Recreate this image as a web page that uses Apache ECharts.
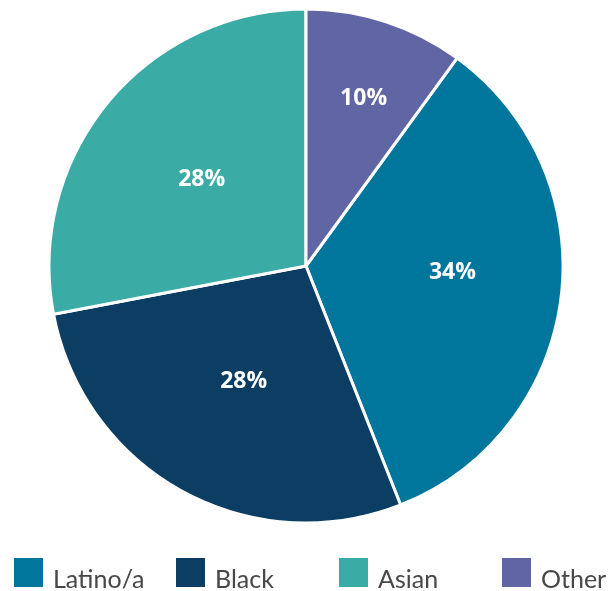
<!DOCTYPE html>
<html>
<head>
<meta charset="utf-8">
<script src="https://cdn.jsdelivr.net/npm/echarts@6/dist/echarts.min.js"></script>
<style>
  html, body { margin: 0; padding: 0; background: #ffffff; }
  #chart { width: 616px; height: 591px; }
</style>
</head>
<body>
<div id="chart"></div>
<script>
// Share of respondents by race/ethnicity
var categories = ['Latino/a', 'Black', 'Asian', 'Other'];
var shares = [34, 28, 28, 10];

var colors = ['#00769d', '#0c3d62', '#3aaca5', '#5f66a3'];
// nudges for the percentage labels, relative to the slice midpoint
var labelNudge = [[16, -10], [1, 0], [-3, -3], [17, -42]];
var legendLeft = [14, 176, 339, 502];

var cx = 306, cy = 266, R = 257;

var chart = echarts.init(document.getElementById('chart'));

var legends = categories.map(function (name, i) {
  return {
    data: [name],
    left: legendLeft[i],
    top: 558,
    padding: 0,
    itemWidth: 29,
    itemHeight: 29,
    itemGap: 0,
    icon: 'rect',
    selectedMode: false,
    itemStyle: { borderWidth: 0 },
    formatter: '{t|{name}}',
    textStyle: {
      rich: {
        t: {
          fontFamily: 'Lato',
          fontSize: 25,
          color: '#474747',
          lineHeight: 40,
          verticalAlign: 'bottom',
          padding: [0, 0, 0, 5]
        }
      }
    }
  };
});

chart.setOption({
  animation: false,
  color: colors,
  legend: legends,
  series: [{
    type: 'pie',
    center: [cx, cy],
    radius: [0, R],
    startAngle: 54,
    clockwise: true,
    data: categories.map(function (name, i) {
      return { name: name, value: shares[i] };
    }),
    itemStyle: { borderColor: '#ffffff', borderWidth: 3 },
    label: {
      show: true,
      position: 'inside',
      formatter: '{c}%',
      color: '#ffffff',
      fontFamily: 'Open Sans',
      fontWeight: 'bold',
      fontSize: 23
    },
    labelLine: { show: false },
    labelLayout: function (p) {
      var n = labelNudge[p.dataIndex];
      return { dx: n[0], dy: n[1] };
    },
    emphasis: { disabled: true }
  }]
});
</script>
</body>
</html>
